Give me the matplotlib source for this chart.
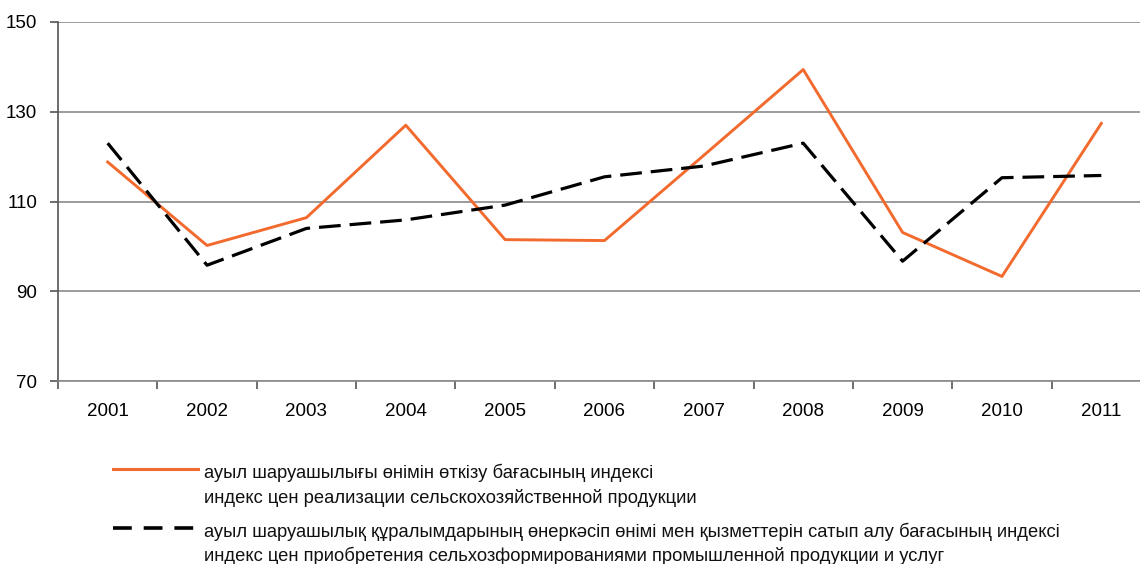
import matplotlib.pyplot as plt
from matplotlib.lines import Line2D
from matplotlib.ticker import FixedLocator

years = ["2001", "2002", "2003", "2004", "2005", "2006",
         "2007", "2008", "2009", "2010", "2011"]
sale_index = [118.8, 100.2, 106.4, 127.0, 101.5, 101.3,
              120.3, 139.4, 103.1, 93.3, 127.4]
purchase_index = [123.0, 95.8, 104.0, 105.9, 109.2, 115.5,
                  117.9, 123.0, 96.7, 115.3, 115.8]

legend_rows = [
    ["ауыл шаруашылығы өнімін өткізу бағасының индексі",
     "индекс цен реализации сельскохозяйственной продукции"],
    ["ауыл шаруашылық құралымдарының өнеркәсіп өнімі мен қызметтерін сатып алу бағасының индексі",
     "индекс цен приобретения сельхозформированиями промышленной продукции и услуг"],
]

ORANGE = "#F26A2E"
plt.rcParams["font.family"] = ["Liberation Sans", "DejaVu Sans"]

W, H = 1140, 564
fig = plt.figure(figsize=(W / 100, H / 100), dpi=100)
ax = fig.add_axes([58 / W, 1 - 381 / H, 1093 / W, 359 / H])

x = list(range(len(years)))
ax.plot(x, sale_index, color=ORANGE, lw=2.1)
ax.plot(x, purchase_index, color="black", lw=2.3, dashes=(6.8, 2.8))

ax.set_xlim(-0.5, len(years) - 0.5)
ax.set_ylim(70, 150)
ax.set_yticks([70, 90, 110, 130, 150])
ax.grid(axis="y", color="#8a8a8a", lw=1.2)
ax.set_axisbelow(True)

ax.set_xticks(x)
ax.set_xticklabels(years, fontsize=13.5)
ax.xaxis.set_minor_locator(FixedLocator([i - 0.5 for i in range(len(years) + 1)]))
ax.tick_params(axis="x", which="major", length=0, pad=16)
ax.tick_params(axis="x", which="minor", length=6, color="#555555", width=1.2)
ax.tick_params(axis="y", length=6, width=1.2, color="#555555", labelsize=13.5, pad=9)

for side in ["top", "right"]:
    ax.spines[side].set_visible(False)
ax.spines["left"].set_color("#555555")
ax.spines["left"].set_linewidth(1.2)
ax.spines["bottom"].set_color("#8a8a8a")
ax.spines["bottom"].set_linewidth(1.2)

# legend drawn by hand below the chart
fig.add_artist(Line2D([113 / W, 198 / W], [1 - 469 / H, 1 - 469 / H],
                      color=ORANGE, lw=2.2))
fig.add_artist(Line2D([113 / W, 198 / W], [1 - 528 / H, 1 - 528 / H],
                      color="black", lw=2.6, dashes=(5.2, 3.3)))
baselines = [[478, 503], [537, 561]]
for rows, ys in zip(legend_rows, baselines):
    for text, yb in zip(rows, ys):
        fig.text(204 / W, 1 - yb / H, text, fontsize=13.2, va="baseline",
                 ha="left", color="#111111")

fig.savefig("out.png", dpi=100)
